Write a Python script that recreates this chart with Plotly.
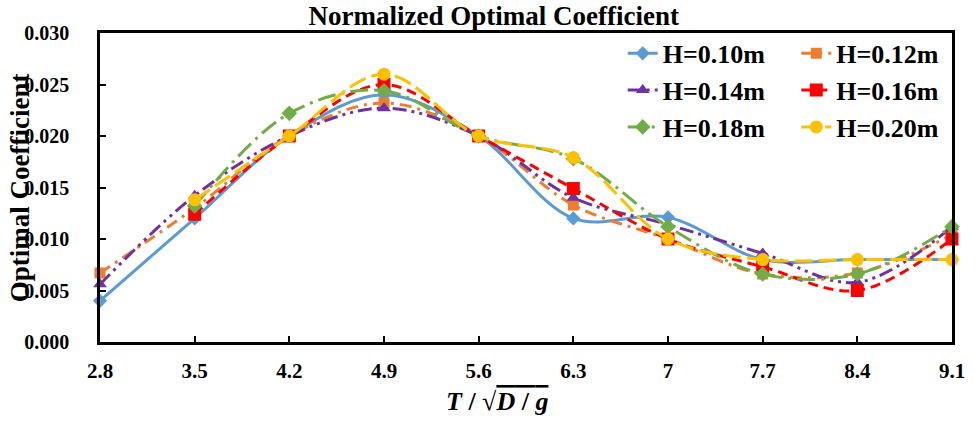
import plotly.graph_objects as go

x_vals = [2.8, 3.5, 4.2, 4.9, 5.6, 6.3, 7.0, 7.7, 8.4, 9.1]
x_labels = ["2.8", "3.5", "4.2", "4.9", "5.6", "6.3", "7", "7.7", "8.4", "9.1"]

h010 = [0.0040, 0.0120, 0.0200, 0.0240, 0.0200, 0.0120, 0.0121, 0.0080, 0.0080, 0.0080]
h012 = [0.0067, 0.0130, 0.0200, 0.0232, 0.0200, 0.0133, 0.0100, 0.0066, 0.0067, 0.0104]
h014 = [0.0056, 0.0142, 0.0200, 0.0227, 0.0200, 0.0140, 0.0114, 0.0086, 0.0058, 0.0112]
h016 = [None, 0.0124, 0.0200, 0.0250, 0.0200, 0.0149, 0.0100, 0.0073, 0.0050, 0.0100]
h018 = [None, 0.0132, 0.0222, 0.0244, 0.0200, 0.0178, 0.0112, 0.0066, 0.0066, 0.0112]
h020 = [None, 0.0138, 0.0200, 0.0260, 0.0200, 0.0179, 0.0100, 0.0080, 0.0080, 0.0080]

y_ticks = [0.0, 0.005, 0.010, 0.015, 0.020, 0.025, 0.030]

FONT = "Liberation Serif"

series = [
    ("H=0.10m", h010, "#5B9BD5", "solid", "diamond", 11, "legend"),
    ("H=0.12m", h012, "#ED7D31", "12px,6px,3px,6px", "square", 11, "legend2"),
    ("H=0.14m", h014, "#7030A0", "14px,5px,3px,5px,3px,5px", "triangle-up", 12, "legend"),
    ("H=0.16m", h016, "#FF0000", "10px,6px", "square", 13, "legend2"),
    ("H=0.18m", h018, "#70AD47", "18px,6px,3px,6px", "diamond", 12, "legend"),
    ("H=0.20m", h020, "#FFC000", "18px,6px", "circle", 13, "legend2"),
]

fig = go.Figure()
for name, ys, color, dash, sym, size, leg in series:
    fig.add_trace(go.Scatter(
        x=x_vals, y=ys, name="<b>%s</b>" % name, mode="lines+markers",
        line=dict(color=color, width=3, dash=dash, shape="spline", smoothing=1),
        marker=dict(symbol=sym, size=size, color=color),
        cliponaxis=False, legend=leg,
    ))

leg_font = dict(size=26, family=FONT, color="black")
fig.update_layout(
    width=977, height=427,
    margin=dict(l=100, r=18, t=33, b=85),
    paper_bgcolor="white", plot_bgcolor="white",
    font=dict(family=FONT, color="black"),
    title=dict(text="<b>Normalized Optimal Coefficient</b>", x=(497 - 100) / 859, xref="paper",
               xanchor="center", y=1 - 16 / 427, yref="container", yanchor="middle",
               font=dict(size=27, family=FONT, color="black")),
    legend=dict(x=(627 - 100) / 859, y=1.01, xanchor="left", yanchor="top",
                font=leg_font, bgcolor="rgba(0,0,0,0)", itemwidth=30),
    legend2=dict(x=(802 - 100) / 859, y=1.01, xanchor="left", yanchor="top",
                 font=leg_font, bgcolor="rgba(0,0,0,0)", itemwidth=30),
    showlegend=True,
)

fig.update_xaxes(
    range=[2.8, 9.1], tickvals=x_vals, ticktext=["<b>%s</b>" % t for t in x_labels],
    showline=True, linecolor="black", linewidth=2.5, mirror=True,
    ticks="inside", ticklen=6, tickwidth=2, tickcolor="black",
    showgrid=False, zeroline=False, ticklabelstandoff=8,
    tickfont=dict(size=21, family=FONT, color="black"),
)
fig.update_yaxes(
    range=[0, 0.030], tickvals=y_ticks, ticktext=["<b>%.3f</b>" % v for v in y_ticks],
    showline=True, linecolor="black", linewidth=2.5, mirror=True,
    ticks="inside", ticklen=6, tickwidth=2, tickcolor="black",
    showgrid=False, zeroline=False, ticklabelstandoff=24,
    tickfont=dict(size=20, family=FONT, color="black"),
)

fig.add_annotation(
    text="<b>Optimal Coefficient</b>", textangle=-90, showarrow=False,
    xref="paper", yref="paper", x=(19 - 100) / 859, y=0.5, xanchor="center", yanchor="middle",
    font=dict(size=27, family=FONT, color="black"),
)
fig.add_annotation(
    text="<b><i>T</i> / √<span style=\"text-decoration:overline\"><i>D</i> / <i>g</i></span></b>",
    showarrow=False, xref="paper", yref="paper",
    x=(500 - 100) / 859, y=-(401 - 342) / 309, xanchor="center", yanchor="middle",
    font=dict(size=26, family=FONT, color="black"),
)

fig.write_html("out.html")
